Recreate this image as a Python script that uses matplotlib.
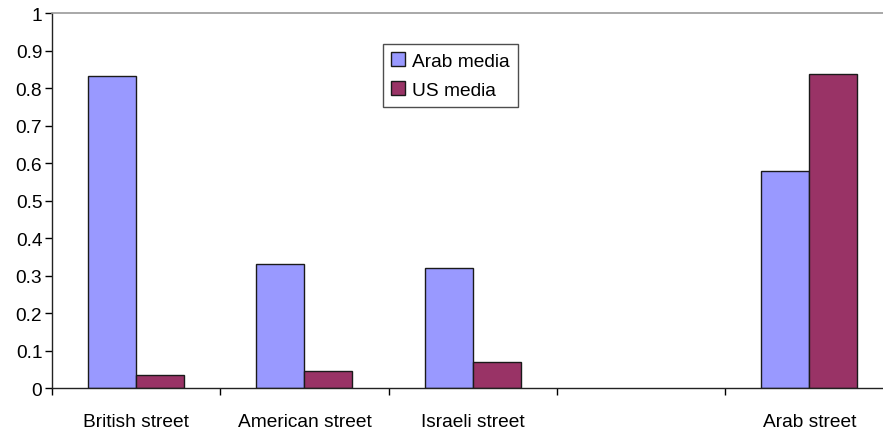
import matplotlib
matplotlib.use("Agg")
import matplotlib.pyplot as plt
import numpy as np

categories = ["British street", "American street", "Israeli street", "", "Arab street"]
arab_media = [0.833, 0.332, 0.32, np.nan, 0.579]
us_media = [0.035, 0.046, 0.071, np.nan, 0.838]
yticks = [0, 0.1, 0.2, 0.3, 0.4, 0.5, 0.6, 0.7, 0.8, 0.9, 1]
ytick_labels = ["0", "0.1", "0.2", "0.3", "0.4", "0.5", "0.6", "0.7", "0.8", "0.9", "1"]

plt.rcParams['font.family'] = ['Liberation Sans', 'DejaVu Sans']
FS = 13.8

W, H = 883, 431
fig = plt.figure(figsize=(W / 100, H / 100), dpi=100)
left, bottom = 52 / W, (H - 389.3) / H
width, height = 841.5 / W, 375.3 / H
ax = fig.add_axes([left, bottom, width, height])

x = np.arange(len(categories))
bw = 48 / 168.3
ax.bar(x - bw / 2, arab_media, bw, color="#9999FF", edgecolor="#1a1a1a", linewidth=1, label="Arab media")
ax.bar(x + bw / 2, us_media, bw, color="#993366", edgecolor="#1a1a1a", linewidth=1, label="US media")

ax.set_xlim(-0.5, len(categories) - 0.5)
ax.set_ylim(0, 1)
ax.set_yticks(yticks)
ax.set_yticklabels(ytick_labels, fontsize=FS)

ax.set_xticks(np.arange(len(categories) + 1) - 0.5)
ax.set_xticklabels([])
ax.set_xticks(x, minor=True)
ax.set_xticklabels(categories, minor=True, fontsize=FS)
ax.tick_params(axis='x', which='minor', length=0, pad=18)
ax.tick_params(axis='x', which='major', length=5, width=1, color='black', direction='out')
ax.tick_params(axis='y', length=5, width=1, color='black', direction='out', pad=2)

for s in ['left', 'bottom']:
    ax.spines[s].set_color('#222222')
    ax.spines[s].set_linewidth(1)
ax.spines['top'].set_color('#9a9a9a')
ax.spines['top'].set_linewidth(1.2)
ax.spines['right'].set_visible(False)

leg = ax.legend(loc='upper left', bbox_to_anchor=(383 / W, 1 - 45 / H),
                bbox_transform=fig.transFigure, fontsize=FS, frameon=True,
                fancybox=False, edgecolor='#222222', borderpad=0.42,
                handlelength=0.75, handleheight=0.75, handletextpad=0.35,
                labelspacing=0.6, borderaxespad=0)
leg.get_frame().set_linewidth(1)

fig.savefig("out.png", dpi=100)
